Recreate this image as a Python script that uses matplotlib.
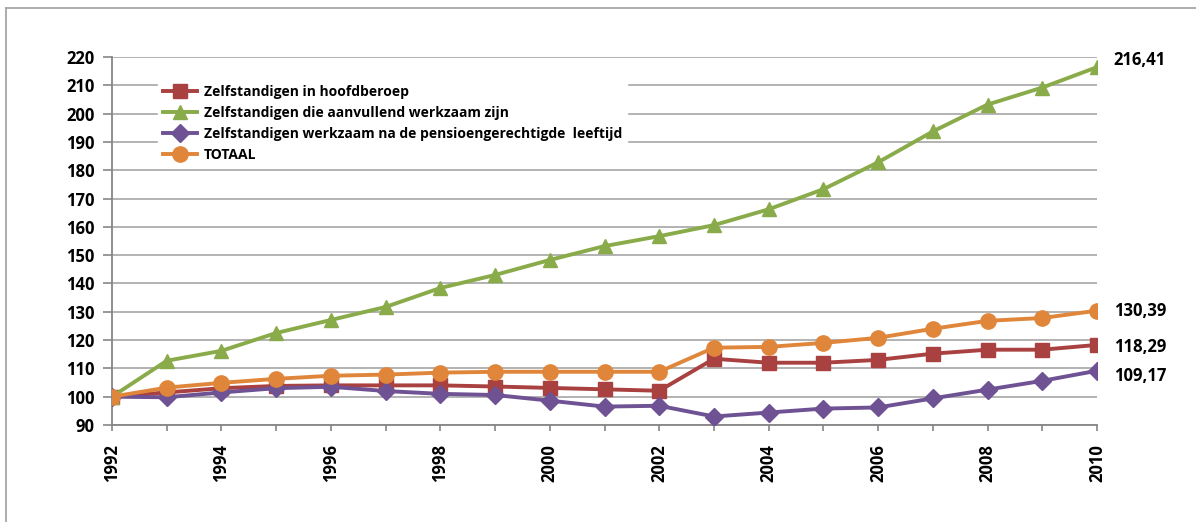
import matplotlib
matplotlib.use("Agg")
import matplotlib.pyplot as plt
from matplotlib.lines import Line2D

plt.rcParams['font.family'] = ['Open Sans', 'DejaVu Sans']
plt.rcParams['font.weight'] = 'bold'

# data (index 1992 = 100)
jaren = list(range(1992, 2011))
hoofdberoep = [100, 101.5, 103.0, 103.8, 104.0, 104.0, 104.0, 103.6, 103.1, 102.6,
               102.1, 113.4, 112.0, 112.0, 113.0, 115.2, 116.6, 116.6, 118.29]
aanvullend = [100, 112.7, 116.2, 122.5, 127.1, 131.7, 138.4, 143.0, 148.3, 153.2,
              156.7, 160.6, 166.2, 173.3, 182.8, 193.7, 203.2, 209.2, 216.41]
pensioen = [100, 99.8, 101.5, 103.0, 103.5, 102.0, 101.0, 100.6, 98.6, 96.5,
            96.8, 93.0, 94.4, 95.8, 96.2, 99.4, 102.5, 105.6, 109.17]
totaal = [100, 103.2, 104.9, 106.3, 107.4, 107.8, 108.5, 108.8, 108.8, 108.8,
          108.8, 117.3, 117.6, 119.0, 120.8, 124.0, 126.8, 127.8, 130.39]

namen = ['Zelfstandigen in hoofdberoep',
         'Zelfstandigen die aanvullend werkzaam zijn',
         'Zelfstandigen werkzaam na de pensioengerechtigde  leeftijd',
         'TOTAAL']

fig = plt.figure(figsize=(11.96, 5.22), dpi=100)
ax = fig.add_axes([112/1196, 1 - 425/522, (1097 - 112)/1196, (425 - 57)/522])

# outer frame of the chart area (only top and left visible)
fig.add_artist(Line2D([6/1196, 6/1196], [0, 1 - 8/522], transform=fig.transFigure, color='#a6a6a6', lw=1.3))
fig.add_artist(Line2D([6/1196, 1], [1 - 8/522, 1 - 8/522], transform=fig.transFigure, color='#a6a6a6', lw=1.3))

ax.plot(jaren, hoofdberoep, '-s', color='#a8413f', lw=2.8, ms=9.5, label=namen[0], zorder=3)
ax.plot(jaren, aanvullend, '-^', color='#8aab4a', lw=2.8, ms=10.5, label=namen[1], zorder=3)
ax.plot(jaren, pensioen, '-D', color='#6e5293', lw=2.8, ms=9, label=namen[2], zorder=3)
ax.plot(jaren, totaal, '-o', color='#e0863b', lw=2.8, ms=11, label=namen[3], zorder=3)

ax.set_xlim(1992, 2010)
ax.set_ylim(90, 220)
ax.set_yticks(range(90, 221, 10))
ax.set_xticks(jaren, minor=True)
ax.set_xticks(jaren[::2])
ax.set_xticklabels([str(j) for j in jaren[::2]], rotation=90, fontsize=12, fontweight='bold')
for lab in ax.get_yticklabels():
    lab.set_fontsize(12)
    lab.set_fontweight('bold')

ax.yaxis.grid(True, color='#a6a6a6', lw=1.2)
ax.set_axisbelow(True)
for s in ['top', 'right']:
    ax.spines[s].set_visible(False)
for s in ['left', 'bottom']:
    ax.spines[s].set_color('#868686')
    ax.spines[s].set_linewidth(1.3)
ax.tick_params(axis='y', length=6.5, color='#868686', width=1.2, pad=6)
ax.tick_params(axis='x', which='both', length=4.5, color='#868686', width=1.2, pad=9)

# end labels
eind = [(aanvullend[-1], 5), (totaal[-1], 0), (hoofdberoep[-1], -1.5), (pensioen[-1], -4)]
for v, dy in eind:
    ax.annotate(f'{v:.2f}'.replace('.', ','), (jaren[-1], v), xytext=(12, dy),
                textcoords='offset points', ha='left', va='center',
                fontsize=12, fontweight='bold', annotation_clip=False)

leg = ax.legend(loc='upper left', bbox_to_anchor=(0.04, 0.955), frameon=True, fancybox=False,
                edgecolor='white', framealpha=1, fontsize=10, handlelength=2.5,
                handletextpad=0.5, labelspacing=0.52, borderpad=0.3)
for t in leg.get_texts():
    t.set_fontweight('bold')

fig.savefig('out.png', dpi=100)
